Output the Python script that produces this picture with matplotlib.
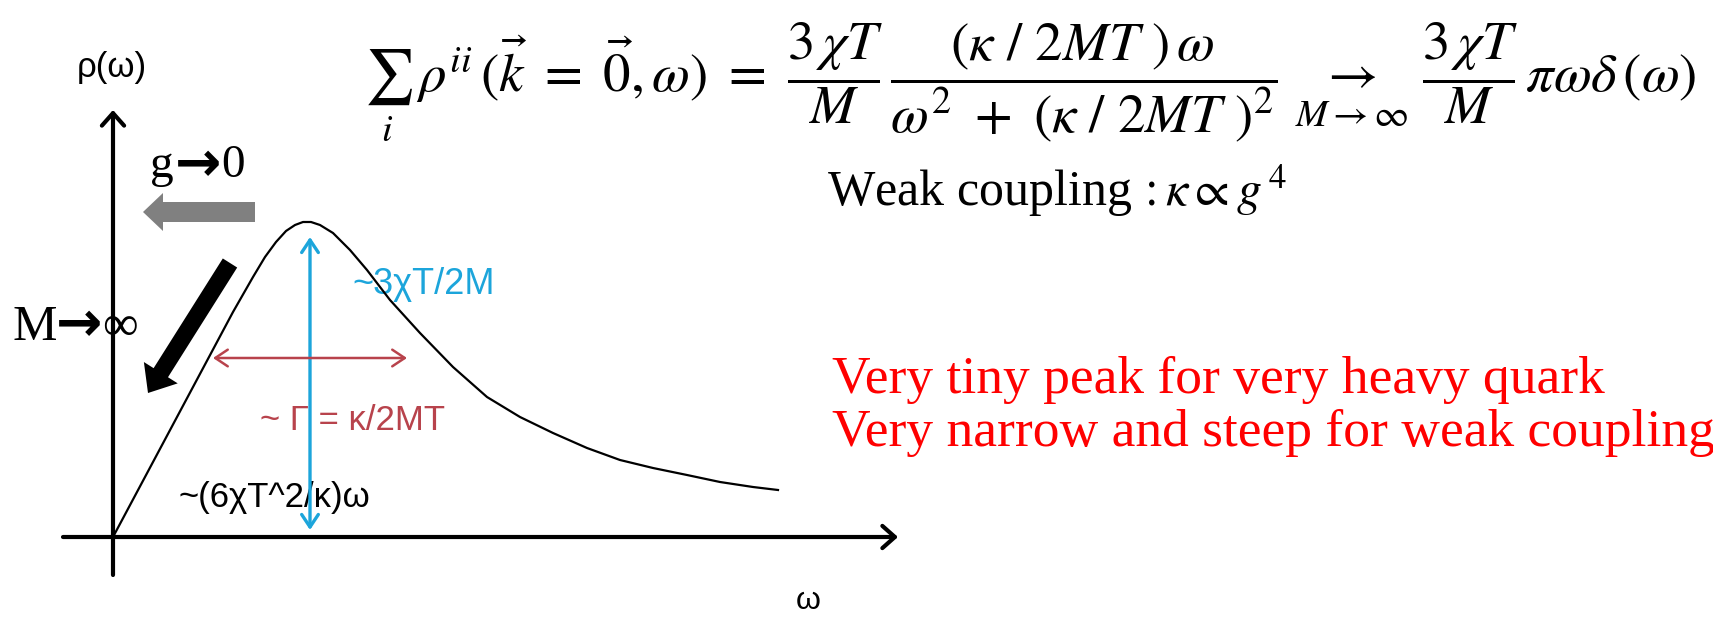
import numpy as np
import matplotlib.pyplot as plt

plt.rcParams['mathtext.fontset'] = 'stix'

# Spectral function sketch: rho(omega) rising linearly, peaking, then a long tail
omega = [0, 40, 80, 120, 140, 152, 163, 173, 182, 190, 198, 207, 220, 237, 254,
         277, 307, 340, 374, 407, 440, 474, 507, 540, 574, 607, 640, 665]
rho = [0, 75, 150, 225, 260, 280, 295, 306, 312, 315, 315, 312, 304, 287, 267,
       237, 204, 170, 140, 120, 104, 89, 77, 69, 62, 55, 50, 47]

peak_omega = 197
peak_height = 300
width_lo, width_hi, width_level = 100, 294, 179

fig = plt.figure(figsize=(17.13, 6.18), dpi=100)
ax = fig.add_axes([0, 0, 1, 1])
ax.set_xlim(-113, 1600)
ax.set_ylim(-81, 537)
ax.axis('off')

serif = ['Liberation Serif', 'DejaVu Serif']
sans = ['Liberation Sans', 'DejaVu Sans']
cyan = '#1ca5db'
darkred = '#b8434c'

# axes with open arrow heads
ax.annotate('', xy=(785, 0), xytext=(-50, 0),
            arrowprops=dict(arrowstyle='->,head_length=0.9,head_width=0.8',
                            lw=3, color='black', shrinkA=0, shrinkB=0))
ax.annotate('', xy=(0, 427), xytext=(0, -38),
            arrowprops=dict(arrowstyle='->,head_length=0.9,head_width=0.8',
                            lw=3, color='black', shrinkA=0, shrinkB=0))
ax.text(-1, 470, 'ρ(ω)', fontsize=25, family=sans, ha='center', va='center')
ax.text(695, -64, 'ω', fontsize=23, family=sans, ha='center', va='center')

# the curve
ax.plot(omega, rho, color='black', lw=1.6, zorder=3, solid_joinstyle='round')

# height and width markers
ax.annotate('', xy=(peak_omega, peak_height), xytext=(peak_omega, 7),
            arrowprops=dict(arrowstyle='<->,head_length=0.9,head_width=0.6',
                            lw=2.4, color=cyan, shrinkA=0, shrinkB=0), zorder=4)
ax.annotate('', xy=(width_hi, width_level), xytext=(width_lo, width_level),
            arrowprops=dict(arrowstyle='<->,head_length=0.9,head_width=0.6',
                            lw=1.8, color=darkred, shrinkA=0, shrinkB=0), zorder=4)

ax.text(239, 252, '~3χT/2M', fontsize=26, family=sans, color=cyan,
        ha='left', va='center', zorder=1)
ax.text(147, 116, '~ Γ = κ/2MT', fontsize=25, family=sans, color=darkred,
        ha='left', va='center', zorder=1)
ax.text(65, 40, '~(6χT^2/κ)ω', fontsize=25, family=sans, color='black',
        ha='left', va='center', zorder=1)

# limits: g -> 0 and M -> infinity
ax.text(37, 360, 'g', fontsize=34, family=serif, ha='left', va='baseline')
ax.text(85, 371, '→', fontsize=40, family='DejaVu Sans', fontweight='bold',
        ha='center', va='center')
ax.text(108, 360, '0', fontsize=34, family=serif, ha='left', va='baseline')
ax.arrow(142, 325, -112, 0, width=20, head_width=38, head_length=20,
         length_includes_head=True, color='#808080', lw=0)

ax.text(-100, 209, 'M', fontsize=36, family=serif, ha='left', va='center')
ax.text(-34, 211, '→', fontsize=40, family='DejaVu Sans', fontweight='bold',
        ha='center', va='center')
ax.text(-11, 209, '∞', fontsize=36, family=serif, ha='left', va='center')
ax.arrow(117, 274, -82, -130, width=17, head_width=40, head_length=24,
         length_includes_head=True, color='black', lw=0)

# formula
eq = (r'$\sum_{i}\;\rho^{ii}\,(\vec{k}\ =\ \vec{0},\omega)\ =\ '
      r'\dfrac{3\,\chi T}{M}\,\dfrac{(\kappa\ /\ 2MT\ )\,\omega}'
      r'{\omega^{2}\ +\ (\kappa\ /\ 2MT\ )^{2}}\ '
      r'\underset{M\rightarrow\infty}{\rightarrow}\ '
      r'\dfrac{3\,\chi T}{M}\,\pi\omega\delta\,(\omega)$')
ax.text(251, 446, eq, fontsize=39.5, ha='left', va='baseline')
ax.text(714, 331, r'Weak coupling$\,:\kappa\propto g^{\,4}$', fontsize=36,
        family=serif, ha='left', va='baseline')

ax.text(719, 144, 'Very tiny peak for very heavy quark', fontsize=38.5,
        family=serif, color='red', ha='left', va='baseline')
ax.text(719, 91, 'Very narrow and steep for weak coupling', fontsize=38.5,
        family=serif, color='red', ha='left', va='baseline')

fig.savefig('out.png', dpi=100, facecolor='white')
